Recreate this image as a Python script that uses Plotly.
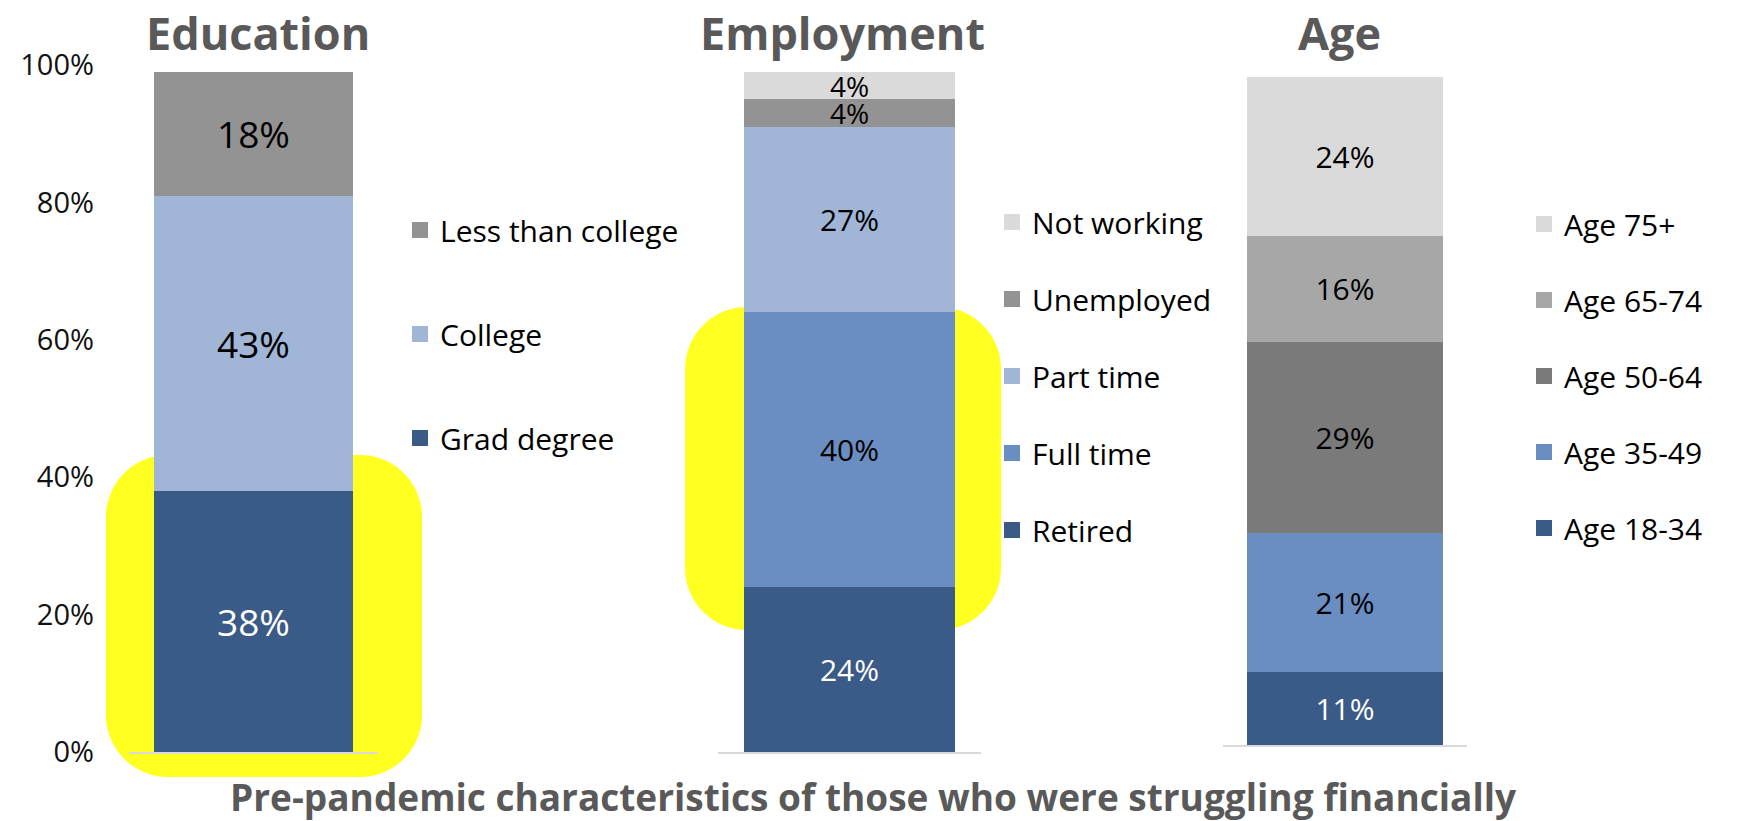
import plotly.graph_objects as go

W, H = 1739, 821
FONT = "Open Sans"

# --- data -------------------------------------------------------------
edu_labels = ["Grad degree", "College", "Less than college"]
edu_values = [38, 43, 18]

emp_labels = ["Retired", "Full time", "Part time", "Unemployed", "Not working"]
emp_values = [24, 40, 27, 4, 4]

age_labels = ["Age 18-34", "Age 35-49", "Age 50-64", "Age 65-74", "Age 75+"]
age_values = [11, 21, 29, 16, 24]

y_ticks = [0, 20, 40, 60, 80, 100]
y_tick_text = ["0%", "20%", "40%", "60%", "80%", "100%"]

# --- styling ----------------------------------------------------------
DARK_BLUE = "#3A5A87"
MID_BLUE = "#6A8EC2"
LIGHT_BLUE = "#A1B6D7"
GREY = "#939393"
LIGHT_GREY = "#DADADA"
MID_GREY = "#A7A7A7"
DARK_GREY = "#7A7A7A"
YELLOW = "#FFFF20"

edu_colors = [DARK_BLUE, LIGHT_BLUE, GREY]
edu_text = ["white", "black", "black"]
emp_colors = [DARK_BLUE, MID_BLUE, LIGHT_BLUE, GREY, LIGHT_GREY]
emp_text = ["white", "black", "black", "black", "black"]
age_colors = [DARK_BLUE, MID_BLUE, DARK_GREY, MID_GREY, LIGHT_GREY]
age_text = ["white", "black", "black", "black", "black"]


def px(x):
    return x / W


def py(y):
    return 1 - y / H


fig = go.Figure()


def add_panel(name, labels, values, colors, tcolors, xa, ya, legend, label_size):
    for lab, val, col, tc in zip(labels, values, colors, tcolors):
        size = label_size if val >= 8 else label_size - 2
        fig.add_trace(go.Bar(
            x=[name], y=[val], name=lab, width=0.8,
            marker=dict(color=col, line=dict(width=0)),
            text=[f"{val}%"], textposition="inside", insidetextanchor="middle",
            constraintext="none", textangle=0,
            textfont=dict(color=tc, size=size, family=FONT),
            xaxis=xa, yaxis=ya, showlegend=False, hoverinfo="skip",
        ))
    # legend entries, listed top to bottom
    for lab, col in reversed(list(zip(labels, colors))):
        fig.add_trace(go.Scatter(
            x=[None], y=[None], mode="markers", name=lab,
            marker=dict(symbol="square", size=16, color=col, line=dict(width=0)),
            xaxis=xa, yaxis=ya, legend=legend, legendgroup=name + lab,
            showlegend=True,
        ))


add_panel("Education", edu_labels, edu_values, edu_colors, edu_text, "x", "y", "legend", 37)
add_panel("Employment", emp_labels, emp_values, emp_colors, emp_text, "x2", "y2", "legend2", 30)
add_panel("Age", age_labels, age_values, age_colors, age_text, "x3", "y3", "legend3", 30)

xcommon = dict(range=[-0.5, 0.5], showticklabels=False, ticks="", showgrid=False,
               zeroline=False, showline=True, linecolor="#D9D9D9", linewidth=2,
               fixedrange=True)
ycommon = dict(showgrid=False, zeroline=False, showline=False, fixedrange=True)

fig.update_layout(
    width=W, height=H,
    margin=dict(l=0, r=0, t=0, b=0, autoexpand=False),
    paper_bgcolor="white", plot_bgcolor="rgba(0,0,0,0)",
    barmode="stack",
    font=dict(family=FONT, color="black"),
    xaxis=dict(domain=[px(129), px(378)], anchor="y", **xcommon),
    yaxis=dict(domain=[py(752), py(65)], range=[0, 100], anchor="x",
               tickmode="array", tickvals=y_ticks, ticktext=y_tick_text,
               ticklabelstandoff=34,
               tickfont=dict(size=29, color="#111", family=FONT), **ycommon),
    xaxis2=dict(domain=[px(718), px(981)], anchor="y2", **xcommon),
    yaxis2=dict(domain=[py(752), py(65)], range=[0, 100], anchor="x2",
                showticklabels=False, **ycommon),
    xaxis3=dict(domain=[px(1223), px(1467)], anchor="y3", **xcommon),
    yaxis3=dict(domain=[py(745), py(70.8)], range=[0, 102], anchor="x3",
                showticklabels=False, **ycommon),
)

legend_common = dict(font=dict(size=30, family=FONT, color="black"),
                     traceorder="grouped", bgcolor="rgba(0,0,0,0)",
                     borderwidth=0, xanchor="left", yanchor="top",
                     itemclick=False, itemdoubleclick=False)
fig.update_layout(
    legend=dict(x=px(400), y=py(204), tracegroupgap=62, **legend_common),
    legend2=dict(x=px(992), y=py(196), tracegroupgap=35, **legend_common),
    legend3=dict(x=px(1524), y=py(198), tracegroupgap=34, **legend_common),
)


def rounded_rect(x0, y0, x1, y1, r):
    k = 0.5523 * r
    pts = [
        f"M {px(x0 + r)} {py(y0)}",
        f"L {px(x1 - r)} {py(y0)}",
        f"C {px(x1 - r + k)} {py(y0)} {px(x1)} {py(y0 + r - k)} {px(x1)} {py(y0 + r)}",
        f"L {px(x1)} {py(y1 - r)}",
        f"C {px(x1)} {py(y1 - r + k)} {px(x1 - r + k)} {py(y1)} {px(x1 - r)} {py(y1)}",
        f"L {px(x0 + r)} {py(y1)}",
        f"C {px(x0 + r - k)} {py(y1)} {px(x0)} {py(y1 - r + k)} {px(x0)} {py(y1 - r)}",
        f"L {px(x0)} {py(y0 + r)}",
        f"C {px(x0)} {py(y0 + r - k)} {px(x0 + r - k)} {py(y0)} {px(x0 + r)} {py(y0)}",
        "Z",
    ]
    return " ".join(pts)


# highlight boxes behind the largest groups
for box in [(106, 455, 422, 777), (685, 307, 1001, 630)]:
    fig.add_shape(type="path", path=rounded_rect(*box, 62), xref="paper", yref="paper",
                  fillcolor=YELLOW, line=dict(width=0), layer="below")

TITLE_COLOR = "#595959"
for text, xc in [("Education", 258), ("Employment", 842), ("Age", 1339)]:
    fig.add_annotation(text=f"<b>{text}</b>", x=px(xc), y=1, xref="paper", yref="paper",
                       showarrow=False, xanchor="center", yanchor="top",
                       font=dict(size=45, color=TITLE_COLOR, family=FONT))

fig.add_annotation(text="<b>Pre-pandemic characteristics of those who were struggling financially</b>",
                   x=px(873), y=0, xref="paper", yref="paper", showarrow=False,
                   xanchor="center", yanchor="bottom", yshift=-3,
                   font=dict(size=37, color=TITLE_COLOR, family=FONT))

fig.write_html("out.html")
